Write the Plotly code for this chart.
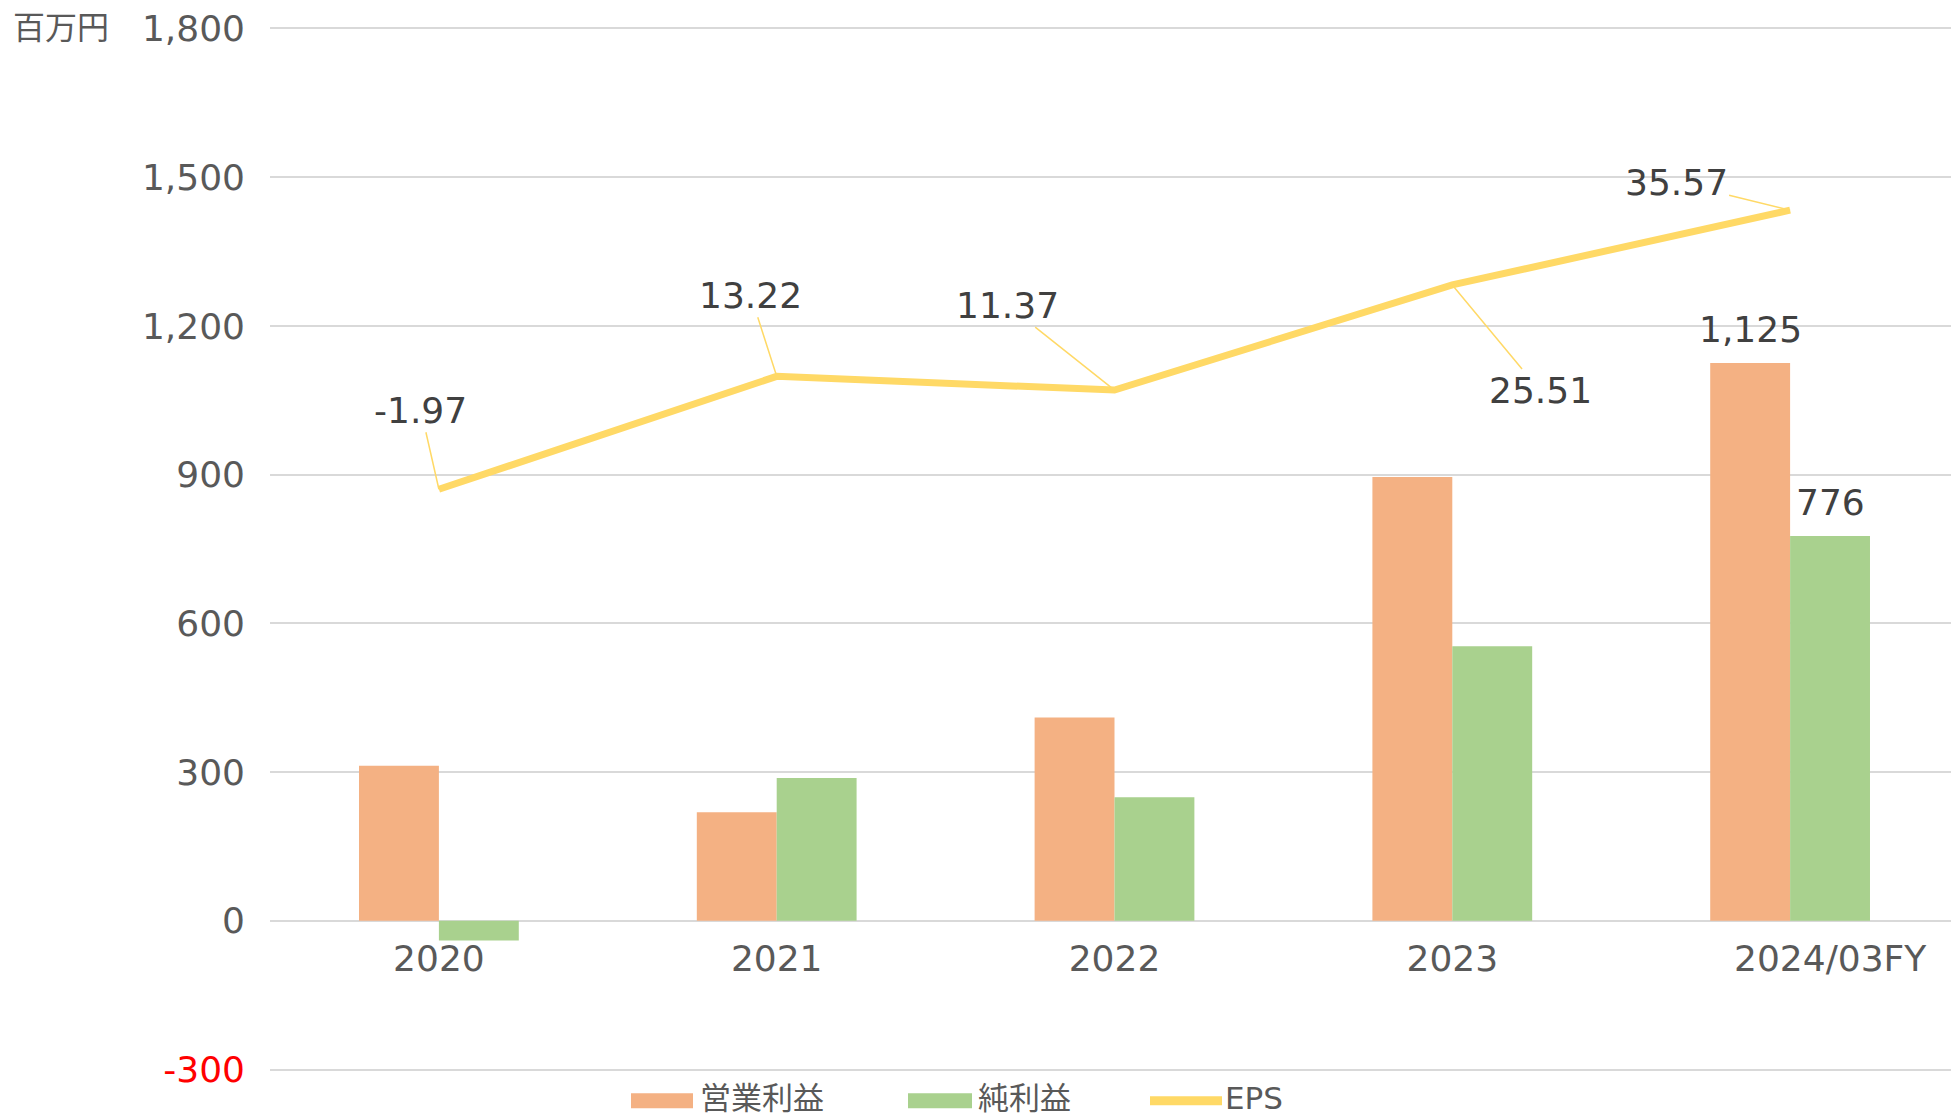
import plotly.graph_objects as go

years = ["2020", "2021", "2022", "2023", "2024/03FY"]
year_labels = ["2020", "2021", "2022", "2023", "\u00a0" * 7 + "2024/03FY"]
operating_profit = [313, 219, 410, 895, 1125]
net_profit = [-40, 288, 249, 554, 776]
eps = [-1.97, 13.22, 11.37, 25.51, 35.57]
series_names = ["営業利益", "純利益", "EPS"]

y_ticks = [-300, 0, 300, 600, 900, 1200, 1500, 1800]
y_ticktext = ['<span style="color:#FF0000">-300</span>'] + [f"{v:,}" for v in y_ticks[1:]]

# label offsets for the EPS leader lines (px)
eps_offsets = [(-18, -79), (-26, -81), (-107, -85), (88, 106), (-114, -28)]

FONT = "DejaVu Sans, Noto Sans CJK JP, sans-serif"
GREY = "#595959"
DARK = "#404040"
ORANGE = "#F4B183"
GREEN = "#A9D18E"
YELLOW = "#FFD966"

W, H = 1951, 1111
M = dict(l=262, r=0, t=18.5, b=48.2)
PW = W - M["l"] - M["r"]
PH = H - M["t"] - M["b"]
OFF = 8  # page body margin


def px(x, y):
    """screenshot pixel -> paper coords"""
    return (x - OFF - M["l"]) / PW, (H - M["b"] - (y - OFF)) / PH


fig = go.Figure()
fig.add_trace(go.Bar(name=series_names[0], x=years, y=operating_profit,
                     marker=dict(color=ORANGE, line_width=0)))
fig.add_trace(go.Bar(name=series_names[1], x=years, y=net_profit,
                     marker=dict(color=GREEN, line_width=0)))
fig.add_trace(go.Scatter(
    name=series_names[2], x=years, y=eps, yaxis="y2", mode="lines",
    line=dict(color=YELLOW, width=7), cliponaxis=False,
))

# EPS labels with leader lines
for i, (v, (ax, ay)) in enumerate(zip(eps, eps_offsets)):
    fig.add_annotation(
        x=i, y=v, xref="x", yref="y2", text=f"{v:.2f}",
        showarrow=True, arrowhead=0, arrowwidth=1.5, arrowcolor=YELLOW,
        ax=ax, ay=ay, standoff=0, font=dict(size=36, color=DARK),
    )

# bar labels for the latest year only
last = len(years) - 1
for vals, shift in [(operating_profit, -40), (net_profit, 40)]:
    fig.add_annotation(
        x=last, y=vals[-1], xref="x", yref="y", text=f"{vals[-1]:,}",
        showarrow=False, xshift=shift, yshift=34, yanchor="middle",
        font=dict(size=36, color=DARK),
    )

ux, uy = px(11, 28)
fig.add_annotation(
    text="百万円", xref="paper", yref="paper", x=ux, y=uy,
    xanchor="left", yanchor="middle", showarrow=False,
    font=dict(size=32, color=GREY),
)

# legend drawn by hand (wide swatches like the original)
legend_items = [
    (series_names[0], ORANGE, 631, 693, 1093, 1108, 698),
    (series_names[1], GREEN, 908, 972, 1093, 1108, 976),
    (series_names[2], YELLOW, 1150, 1222, 1096, 1105, 1223),
]
for name, color, x0, x1, y0, y1, tx in legend_items:
    p0 = px(x0, y1)
    p1 = px(x1, y0)
    fig.add_shape(type="rect", xref="paper", yref="paper",
                  x0=p0[0], y0=p0[1], x1=p1[0], y1=p1[1],
                  fillcolor=color, line_width=0)
    tpx, tpy = px(tx, 1098)
    fig.add_annotation(text=name, xref="paper", yref="paper", x=tpx, y=tpy,
                       xanchor="left", yanchor="middle", showarrow=False,
                       font=dict(size=31, color=GREY))

fig.update_layout(
    width=W, height=H,
    margin=dict(M, autoexpand=False),
    plot_bgcolor="white", paper_bgcolor="white",
    font=dict(family=FONT, color=GREY),
    showlegend=False,
    barmode="group", bargap=0.527, bargroupgap=0,
    xaxis=dict(
        type="category", range=[-0.5, 4.5], anchor="free", position=303 / 2106,
        tickvals=years, ticktext=year_labels, showgrid=False, showline=False,
        ticks="", tickangle=0, automargin=False, ticklabelstandoff=13,
        tickfont=dict(size=36, color=GREY),
    ),
    yaxis=dict(
        range=[-303, 1803], tickvals=y_ticks, ticktext=y_ticktext,
        gridcolor="#D9D9D9", gridwidth=2, zeroline=False, showline=False,
        automargin=False,
        tickfont=dict(size=36, color=GREY), ticklabelstandoff=24,
    ),
    yaxis2=dict(
        range=[-80.2, 60.2], overlaying="y", side="right", visible=False,
        showgrid=False, zeroline=False, automargin=False,
    ),
)

fig.write_html("out.html")
